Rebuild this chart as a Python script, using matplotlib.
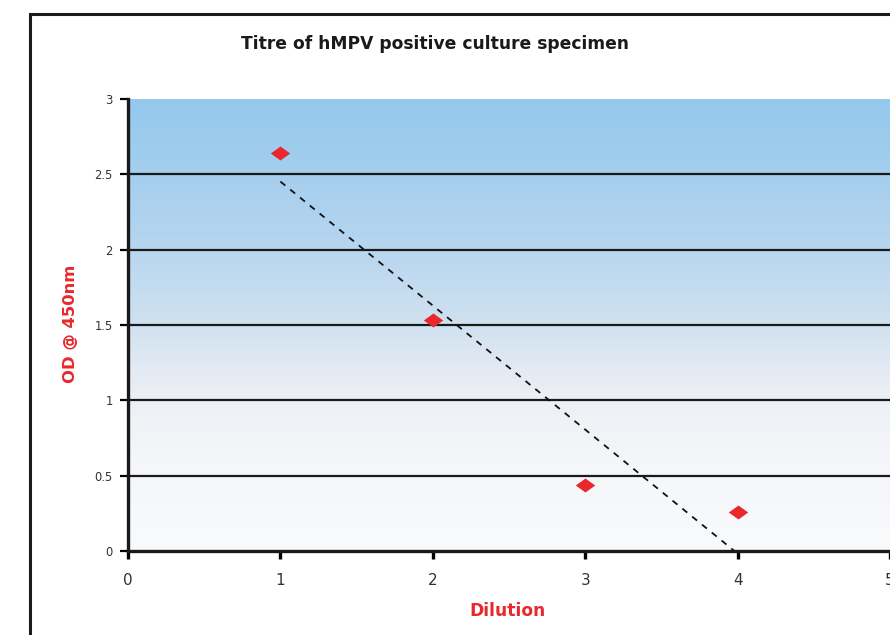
import matplotlib
matplotlib.use("Agg")
import matplotlib.pyplot as plt
import numpy as np
from matplotlib.colors import LinearSegmentedColormap
from matplotlib.path import Path
from matplotlib.patches import Rectangle

plt.rcParams["font.family"] = ["DejaVu Sans"]

# data
dilution = [1, 2, 3, 4]
od_450 = [2.64, 1.53, 0.44, 0.26]
x_ticks = [0, 1, 2, 3, 4, 5]
y_ticks = [0, 0.5, 1, 1.5, 2, 2.5, 3]
y_tick_labels = ["0", "0.5", "1", "1.5", "2", "2.5", "3"]

W, H = 890, 635
fig = plt.figure(figsize=(W / 100, H / 100), dpi=100)

# outer chart border (runs off the right and bottom edges)
fig.patches.append(Rectangle((30 / W, -0.1), 1.2, 1 - 14 / H + 0.1,
                             transform=fig.transFigure, fill=False,
                             edgecolor="#1a1a1a", linewidth=2.2))

ax = fig.add_axes([128 / W, 1 - 551 / H, 762 / W, 452 / H])
ax.set_xlim(0, 5)
ax.set_ylim(0, 3)

# gradient background, blue at top fading to near white
cmap = LinearSegmentedColormap.from_list(
    "bg", [(0.0, "#f9fafc"), (0.2, "#f4f6f9"), (0.35, "#eceff4"),
           (0.5, "#d0e1f0"), (0.7, "#b3d4ef"), (1.0, "#93c8ec")])
grad = np.linspace(0, 1, 256).reshape(-1, 1)
ax.imshow(grad, cmap=cmap, origin="lower", extent=[0, 5, 0, 3],
          aspect="auto", zorder=0)

for yv in y_ticks[1:-1]:
    ax.axhline(yv, color="#1a1a1a", linewidth=1.6, zorder=1)
ax.axhline(3, color="#9ccbea", linewidth=1.2, zorder=1)

# linear trendline, clipped at zero like the spreadsheet does
slope, icpt = np.polyfit(dilution, od_450, 1)
x_end = min(4, -icpt / slope)
tx = np.array([1, x_end])
ax.plot(tx, slope * tx + icpt, color="#111111", linewidth=1.3,
        linestyle=(0, (3.5, 3.5)), zorder=2)

diamond = Path([(-1, 0), (0, 0.72), (1, 0), (0, -0.72), (-1, 0)],
               [Path.MOVETO, Path.LINETO, Path.LINETO, Path.LINETO, Path.CLOSEPOLY])
ax.plot(dilution, od_450, linestyle="none", marker=diamond, markersize=14,
        color="#e8282c", markeredgewidth=0, zorder=3)

for s in ["top", "right"]:
    ax.spines[s].set_visible(False)
for s in ["left", "bottom"]:
    ax.spines[s].set_linewidth(2.4)
    ax.spines[s].set_color("#1a1a1a")

ax.set_xticks(x_ticks)
ax.set_yticks(y_ticks)
ax.set_yticklabels(y_tick_labels)
ax.tick_params(axis="y", direction="out", length=6, width=1.6,
               labelsize=8.3, labelcolor="#333333", pad=5)
ax.tick_params(axis="x", direction="out", length=6, width=2.4,
               labelsize=11, labelcolor="#333333", pad=10)

fig.text(435 / W, 1 - 44 / H, "Titre of hMPV positive culture specimen",
         ha="center", va="center", fontsize=12.3, fontweight="bold",
         color="#1a1a1a")
fig.text(70 / W, 1 - 324 / H, "OD @ 450nm", rotation=90, ha="center",
         va="center", fontsize=11.8, fontweight="bold", color="#e8282c")
fig.text(507 / W, 1 - 611 / H, "Dilution", ha="center", va="center",
         fontsize=12.3, fontweight="bold", color="#e8282c")

fig.savefig("out.png", dpi=100)
